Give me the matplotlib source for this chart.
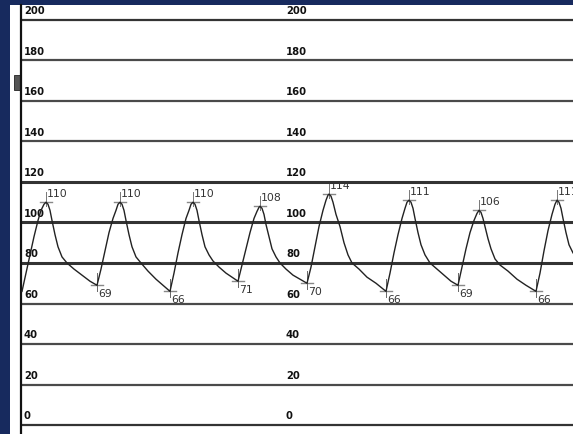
import matplotlib.pyplot as plt
from matplotlib.patches import Rectangle

# waveform samples (time in screen units, pressure in mmHg)
time = [1, 5, 9, 13, 17, 20, 23, 25,
        27, 29, 31, 34, 37, 41, 46, 53, 61, 69, 76,
        80, 84, 88, 92, 95, 97, 99,
        101, 103, 105, 108, 111, 115, 120, 127, 135, 142, 149,
        153, 157, 161, 165, 168, 170, 172,
        174, 176, 178, 181, 184, 188, 192, 198, 205, 211, 217,
        221, 225, 229, 233, 236, 238, 239,
        241, 243, 245, 248, 251, 255, 259, 265, 272, 279, 286,
        290, 294, 298, 302, 305, 307, 308,
        310, 312, 315, 319, 323, 327, 331, 338, 346, 355, 365,
        369, 373, 377, 381, 384, 386, 388,
        390, 392, 394, 397, 400, 404, 409, 416, 423, 430, 437,
        441, 445, 449, 453, 456, 458,
        460, 462, 464, 467, 470, 474, 479, 487, 496, 505, 515,
        519, 523, 527, 531, 534, 536,
        538, 540, 542, 545, 548, 552]
pressure = [66, 75, 84, 93, 101, 106, 109, 110,
            109, 106, 101, 94, 88, 83, 80, 77, 74, 71, 69,
            77, 86, 95, 102, 106, 109, 110,
            109, 106, 101, 94, 88, 83, 80, 76, 72, 69, 66,
            75, 85, 94, 102, 106, 109, 110,
            109, 106, 101, 94, 88, 84, 81, 78, 75, 73, 71,
            79, 87, 95, 102, 105.5, 107.5, 108,
            107, 104, 99, 93, 87, 83, 80, 77, 74, 72, 70,
            78, 88, 98, 106, 111, 113.5, 114,
            113, 110, 104, 98, 90, 84, 80, 77, 73, 70, 66,
            75, 85, 94, 102, 107, 110, 111,
            110, 107, 102, 95, 89, 84, 80, 77, 74, 71, 69,
            78, 87, 95, 101, 104.5, 106,
            105, 102, 98, 92, 87, 82, 79, 76, 72, 69, 66,
            75, 86, 96, 104, 109, 111,
            110, 107, 102, 95, 89, 85]

peak_t = [25, 99, 172, 239, 308, 388, 458, 536]
peak_v = [110, 110, 110, 108, 114, 111, 106, 111]
trough_t = [76, 149, 217, 286, 365, 437, 515]
trough_v = [69, 66, 71, 70, 66, 69, 66]

grid_levels = [0, 20, 40, 60, 80, 100, 120, 140, 160, 180, 200]
label_cols = [3, 265]

W, H = 573, 434
fig = plt.figure(figsize=(W / 100, H / 100), dpi=100)
fig.patch.set_facecolor('#172a5e')
fig.patches.append(Rectangle((10 / W, 0), 1 - 10 / W, 429 / H,
                             transform=fig.transFigure, facecolor='white',
                             edgecolor='none', zorder=-2))
fig.patches.append(Rectangle((14 / W, (434 - 90) / H), 6 / W, 15 / H,
                             transform=fig.transFigure, facecolor='#555555',
                             edgecolor='#222222', lw=0.6, zorder=-1))

ax = fig.add_axes([21 / W, 0, 1 - 21 / W, 429 / H])
ax.set_facecolor('white')
ax.set_xlim(0, 552)
ax.set_ylim(-4.44, 207.4)
for s in ['top', 'right', 'bottom']:
    ax.spines[s].set_visible(False)
ax.spines['left'].set_linewidth(1.6)
ax.spines['left'].set_color('#111111')
ax.set_xticks([])
ax.set_yticks([])

# horizontal scale lines and their labels
for lv in grid_levels:
    lw = 2.2 if lv in (80, 100, 120) else 1.6
    col = '#333333' if lv in (0, 80, 100, 120, 200) else '#4a4a4a'
    ax.axhline(lv, color=col, lw=lw, zorder=1)
    for c in label_cols:
        ax.text(c, lv + 1.8, str(lv), fontsize=7.2, fontweight='bold',
                color='#111111', ha='left', va='bottom')

# pressure trace
ax.plot(time, pressure, color='#222222', lw=1.0, zorder=3)

# systolic markers and values
for t, v in zip(peak_t, peak_v):
    ax.plot([t - 6, t + 6], [v, v], color='#888888', lw=1.0, zorder=2)
    ax.plot([t, t], [v - 2, v + 5], color='#777777', lw=0.7, zorder=2)
    ax.text(t + 1, v + 1.5, str(v), fontsize=7.8, color='#333333',
            ha='left', va='bottom', clip_on=True)

# diastolic markers and values
for t, v in zip(trough_t, trough_v):
    ax.plot([t - 6, t + 6], [v, v], color='#888888', lw=1.0, zorder=2)
    ax.plot([t, t], [v - 3, v + 6], color='#666666', lw=0.7, zorder=2)
    ax.text(t + 1, v - 2, str(v), fontsize=7.8, color='#333333',
            ha='left', va='top', clip_on=True)

fig.savefig('out.png', dpi=100, facecolor=fig.get_facecolor())
